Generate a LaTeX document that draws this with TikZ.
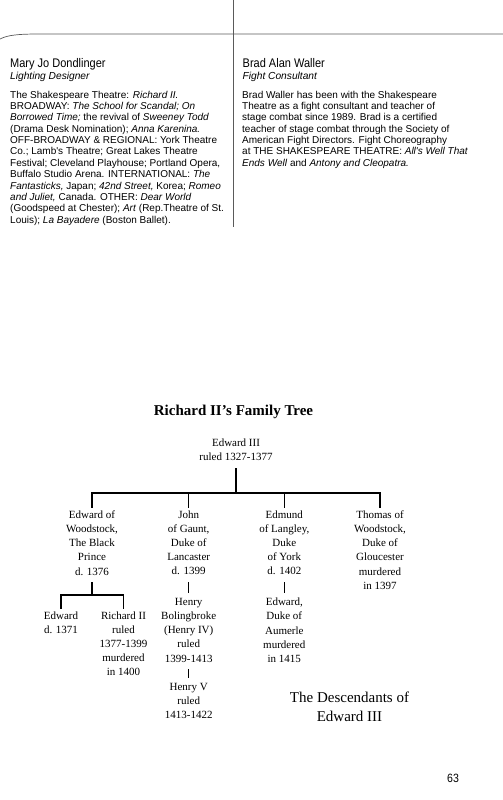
\documentclass[tikz,border=0pt]{standalone}
\usepackage{fontspec}
\setmainfont{Liberation Serif}
\newfontfamily\biofont{Liberation Sans}
\newfontfamily\namefont[FakeStretch=0.88]{Liberation Sans}
\usepackage{tikz}
\usetikzlibrary{positioning}
\definecolor{rulegray}{HTML}{5A5A5A}

\begin{document}
\begin{tikzpicture}[
  x=1pt, y=-1pt,
  person/.style={font=\fontsize{11}{14.2}\selectfont, align=center, inner sep=0pt, outer sep=3pt, anchor=north},
  branch/.style={line width=1.5pt},
  link/.style={branch, shorten <=4pt, shorten >=2pt},
  rule/.style={line width=0.7pt, color=rulegray},
  who/.style={font=\namefont\fontsize{12.5}{14}\selectfont, inner sep=0pt, anchor=base west},
  role/.style={font=\biofont\itshape\fontsize{10.2}{12}\selectfont, inner sep=0pt, anchor=base west},
  bio/.style={font=\biofont\fontsize{10}{11.35}\selectfont, align=left, inner sep=0pt, anchor=north west}
]
\useasboundingbox (0,0) rectangle (503,800);

\draw[rule] (0,39) .. controls (8,35) and (18,34) .. (40,34) -- (503,34);
\draw[rule] (233.6,0) -- (233.6,227);

\node[who] (mjd) at (10,67.3) {Mary Jo Dondlinger};
\node[role] (mjdrole) at (10,80) {Lighting Designer};
\node[bio] (mjdtext) at (10,90.8) {The Shakespeare Theatre: \textit{Richard II.}\\
BROADWAY: \textit{The School for Scandal; On}\\
\textit{Borrowed Time;} the revival of \textit{Sweeney Todd}\\
(Drama Desk Nomination); \textit{Anna Karenina.}\\
OFF-BROADWAY \& REGIONAL: York Theatre\\
Co.; Lamb's Theatre; Great Lakes Theatre\\
Festival; Cleveland Playhouse; Portland Opera,\\
Buffalo Studio Arena. INTERNATIONAL: \textit{The}\\
\textit{Fantasticks,} Japan; \textit{42nd Street,} Korea; \textit{Romeo}\\
\textit{and Juliet,} Canada. OTHER: \textit{Dear World}\\
(Goodspeed at Chester); \textit{Art} (Rep.Theatre of St.\\
Louis); \textit{La Bayadere} (Boston Ballet).};

\node[who] (baw) at (242.5,67.3) {Brad Alan Waller};
\node[role] (bawrole) at (242.5,80) {Fight Consultant};
\node[bio] (bawtext) at (242,90.8) {Brad Waller has been with the Shakespeare\\
Theatre as a fight consultant and teacher of\\
stage combat since 1989. Brad is a certified\\
teacher of stage combat through the Society of\\
American Fight Directors. Fight Choreography\\
at THE SHAKESPEARE THEATRE: \textit{All's Well That}\\
\textit{Ends Well} and \textit{Antony and Cleopatra.}};

\node[font=\bfseries\fontsize{15}{18}\selectfont, inner sep=0pt, anchor=base] (title) at (233.5,415) {Richard II's Family Tree};

\node[person] (e3) at (236,435.5) {Edward III\\ruled 1327-1377};
\coordinate (bar1) at (236,493);
\node[person] (ewk) at (92,507.5) {Edward of\\Woodstock,\\The Black\\Prince\\d. 1376};
\node[person] (jog) at (188.7,507.5) {John\\of Gaunt,\\Duke of\\Lancaster\\d. 1399};
\node[person] (eol) at (284.3,507.5) {Edmund\\of Langley,\\Duke\\of York\\d. 1402};
\node[person] (tow) at (380,507.5) {Thomas of\\Woodstock,\\Duke of\\Gloucester\\murdered\\in 1397};

\coordinate (bar2) at (92,595);
\node[person] (ed) at (61,608.5) {Edward\\d. 1371};
\node[person] (rich) at (123.5,608.5) {Richard II\\ruled\\1377-1399\\murdered\\in 1400};
\node[person] (hb) at (188.7,595) {Henry\\Bolingbroke\\(Henry IV)\\ruled\\1399-1413};
\node[person] (h5) at (188.7,680) {Henry V\\ruled\\1413-1422};
\node[person] (aum) at (284.3,595) {Edward,\\Duke of\\Aumerle\\murdered\\in 1415};

\draw[branch, shorten <=5pt] (e3) -- (bar1);
\draw[branch] (ewk.north) -- (ewk.north |- bar1) -- (tow.north |- bar1) -- (tow.north);
\draw[branch] (jog.north |- bar1) -- (jog.north);
\draw[branch] (eol.north |- bar1) -- (eol.north);
\draw[branch, shorten <=4pt] (ewk) -- (bar2);
\draw[branch] (ed.north) -- (ed.north |- bar2) -- (rich.north |- bar2) -- (rich.north);
\draw[link] (jog) -- (hb);
\draw[link] (hb) -- (h5);
\draw[link] (eol) -- (aum);

\node[font=\fontsize{15}{19}\selectfont, align=center, inner sep=0pt, anchor=base] (caption) at (349.5,721.7) {The Descendants of\\Edward III};

\node[font=\namefont\fontsize{12}{14}\selectfont, inner sep=0pt, anchor=base] (pg) at (453,782.5) {63};
\end{tikzpicture}
\end{document}
